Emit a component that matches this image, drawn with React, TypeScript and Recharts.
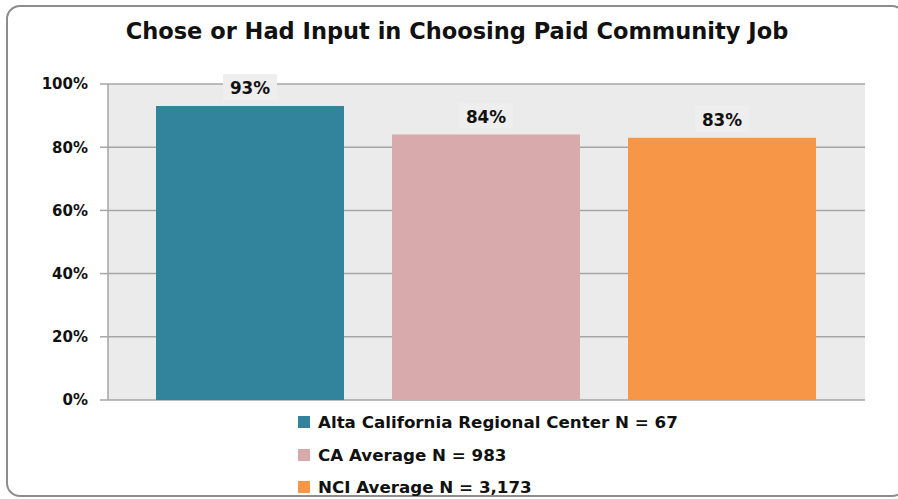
import React from 'react';
import { BarChart, Bar, XAxis, YAxis, CartesianGrid, Cell, LabelList } from 'recharts';

const categories = ['Alta California Regional Center N = 67', 'CA Average N = 983', 'NCI Average N = 3,173'];
const values = [93, 84, 83];
const colors = ['#31849b', '#d9aaab', '#f79646'];
const yTicks = [0, 20, 40, 60, 80, 100];
const title = 'Chose or Had Input in Choosing Paid Community Job';

const chartData = categories.map((name, i) => ({ name, value: values[i], color: colors[i] }));

const FONT = '"DejaVu Sans", "Open Sans", sans-serif';

const ValueLabel = (props: any) => {
  const { x, y, width, value } = props;
  const cx = x + width / 2;
  return (
    <g>
      <rect x={cx - 27} y={y - 32} width={54} height={26} fill="#eeeeee" />
      <text x={cx} y={y - 18} textAnchor="middle" dominantBaseline="central" fontSize={16.8} fontWeight={700} fill="#111" fontFamily={FONT}>
        {value}%
      </text>
    </g>
  );
};

export default function App() {
  return (
    <div style={{ position: 'absolute', left: 0, top: 0, width: 898, height: 499, background: '#fff', fontFamily: FONT }}>
      <div
        style={{
          position: 'absolute',
          left: 6,
          top: 5,
          width: 900,
          height: 492,
          border: '2px solid #8c8c8c',
          borderRadius: 14,
          boxSizing: 'border-box',
        }}
      />
      <div
        style={{
          position: 'absolute',
          left: 0,
          top: 18,
          width: 914,
          textAlign: 'center',
          fontSize: 22.5,
          fontWeight: 700,
          color: '#111',
        }}
      >
        {title}
      </div>
      <div style={{ position: 'absolute', left: 0, top: 0 }}>
        <BarChart width={898} height={499} data={chartData} margin={{ top: 84, right: 33, left: 48, bottom: 99 }}>
          <CartesianGrid vertical={false} fill="#ebebeb" stroke="#a6a6a6" strokeWidth={1.5} />
          <XAxis dataKey="name" tick={false} tickLine={false} axisLine={{ stroke: '#a6a6a6', strokeWidth: 1.5 }} padding={{ left: 24, right: 25 }} height={0} />
          <YAxis
            width={60}
            domain={[0, 100]}
            ticks={yTicks}
            tickFormatter={(v: number) => `${v}%`}
            tick={{ fontSize: 15, fontWeight: 700, fill: '#111', fontFamily: FONT }}
            tickSize={8}
            tickMargin={12}
            tickLine={{ stroke: '#a6a6a6', strokeWidth: 1.5 }}
            axisLine={{ stroke: '#a6a6a6', strokeWidth: 1.5 }}
            interval={0}
          />
          <Bar dataKey="value" barSize={188} isAnimationActive={false}>
            {chartData.map((d) => (
              <Cell key={d.name} fill={d.color} />
            ))}
            <LabelList dataKey="value" content={<ValueLabel />} />
          </Bar>
        </BarChart>
      </div>
      <div style={{ position: 'absolute', left: 298, top: 406 }}>
        {chartData.map((d) => (
          <div key={d.name} style={{ display: 'flex', alignItems: 'center', height: 32.5, fontSize: 16.7, fontWeight: 700, color: '#111', whiteSpace: 'nowrap' }}>
            <span style={{ display: 'inline-block', width: 12, height: 12, background: d.color, marginRight: 8 }} />
            {d.name}
          </div>
        ))}
      </div>
    </div>
  );
}
